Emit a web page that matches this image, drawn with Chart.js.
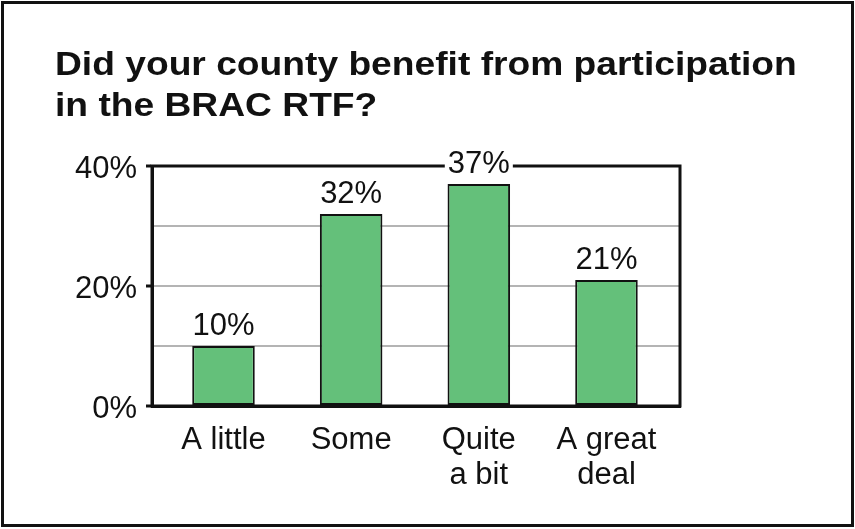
<!DOCTYPE html>
<html>
<head>
<meta charset="utf-8">
<script src="https://cdn.jsdelivr.net/npm/chart.js@4.4.1/dist/chart.umd.min.js"></script>
<style>
  html, body { margin: 0; padding: 0; background: #fff; }
  #wrap { width: 855px; height: 529px; }
</style>
</head>
<body>
<div id="wrap"><canvas id="chart" width="855" height="529"></canvas></div>
<script>
const categories = [['A little'], ['Some'], ['Quite', 'a bit'], ['A great', 'deal']];
const shares = [10, 32, 37, 21];
const yTickLabels = { 0: '0%', 20: '20%', 40: '40%' };
const titleLines = ['Did your county benefit from participation', 'in the BRAC RTF?'];

const FONT = '"Liberation Sans", Arial, sans-serif';

// outer frame, title, plot box and value labels
const decor = {
  id: 'decor',
  beforeDraw(chart) {
    const ctx = chart.ctx;
    ctx.save();
    ctx.fillStyle = '#fff';
    ctx.fillRect(0, 0, chart.width, chart.height);
    ctx.strokeStyle = '#111';
    ctx.lineWidth = 3;
    ctx.strokeRect(2.5, 2.5, chart.width - 5, chart.height - 6);
    ctx.fillStyle = '#111';
    ctx.font = 'bold 33px ' + FONT;
    ctx.textBaseline = 'alphabetic';
    titleLines.forEach((t, i) => {
      ctx.save();
      ctx.translate(55, 75 + i * 41);
      ctx.scale(1.127, 1);
      ctx.fillText(t, 0, 0);
      ctx.restore();
    });
    ctx.restore();
  },
  afterDatasetsDraw(chart) {
    const ctx = chart.ctx;
    const a = chart.chartArea;
    ctx.save();
    ctx.strokeStyle = '#111';
    ctx.lineWidth = 3;
    ctx.strokeRect(a.left, a.top, a.right - a.left, a.bottom - a.top);

    const meta = chart.getDatasetMeta(0);
    ctx.font = '31px ' + FONT;
    ctx.textAlign = 'center';
    ctx.textBaseline = 'alphabetic';
    meta.data.forEach((bar, i) => {
      const txt = shares[i] + '%';
      const y = bar.y - 11;
      const w = ctx.measureText(txt).width;
      ctx.fillStyle = '#fff';
      ctx.fillRect(bar.x - w / 2 - 3, y - 24, w + 6, 26);
      ctx.fillStyle = '#111';
      ctx.fillText(txt, bar.x, y);
    });
    ctx.restore();
  }
};

new Chart(document.getElementById('chart'), {
  type: 'bar',
  data: {
    labels: categories,
    datasets: [{
      data: shares,
      backgroundColor: '#64c07a',
      borderColor: '#111',
      borderWidth: 2,
      borderSkipped: false,
      barPercentage: 0.49,
      categoryPercentage: 1
    }]
  },
  plugins: [decor],
  options: {
    responsive: false,
    animation: false,
    events: [],
    layout: { padding: { top: 166, right: 175, left: 0, bottom: 0 } },
    plugins: {
      legend: { display: false },
      title: { display: false },
      tooltip: { enabled: false }
    },
    scales: {
      x: {
        grid: { display: false },
        border: { color: '#111', width: 3 },
        ticks: {
          color: '#111',
          font: { family: FONT, size: 31, lineHeight: 1.13 },
          padding: 9,
          maxRotation: 0,
          autoSkip: false
        },
        afterFit(scale) { scale.height = 123; },
        // bars sit a little tighter than an even split of the box
        afterUpdate(scale) { scale._startValue = -0.56; scale._valueRange = 4.136; }
      },
      y: {
        min: 0,
        max: 40,
        border: { color: '#111', width: 3 },
        grid: {
          lineWidth: 2,
          tickLength: 6,
          tickWidth: 3,
          color: ctx => (ctx.tick.value === 0 || ctx.tick.value === 40) ? 'rgba(0,0,0,0)' : '#b4b4b4',
          tickColor: ctx => yTickLabels[ctx.tick.value] !== undefined ? '#111' : 'rgba(0,0,0,0)'
        },
        ticks: {
          stepSize: 10,
          color: '#111',
          font: { family: FONT, size: 31 },
          padding: 9,
          labelOffset: 3,
          callback: v => yTickLabels[v] || ''
        },
        afterFit(scale) { scale.width = 152; }
      }
    }
  }
});
</script>
</body>
</html>
